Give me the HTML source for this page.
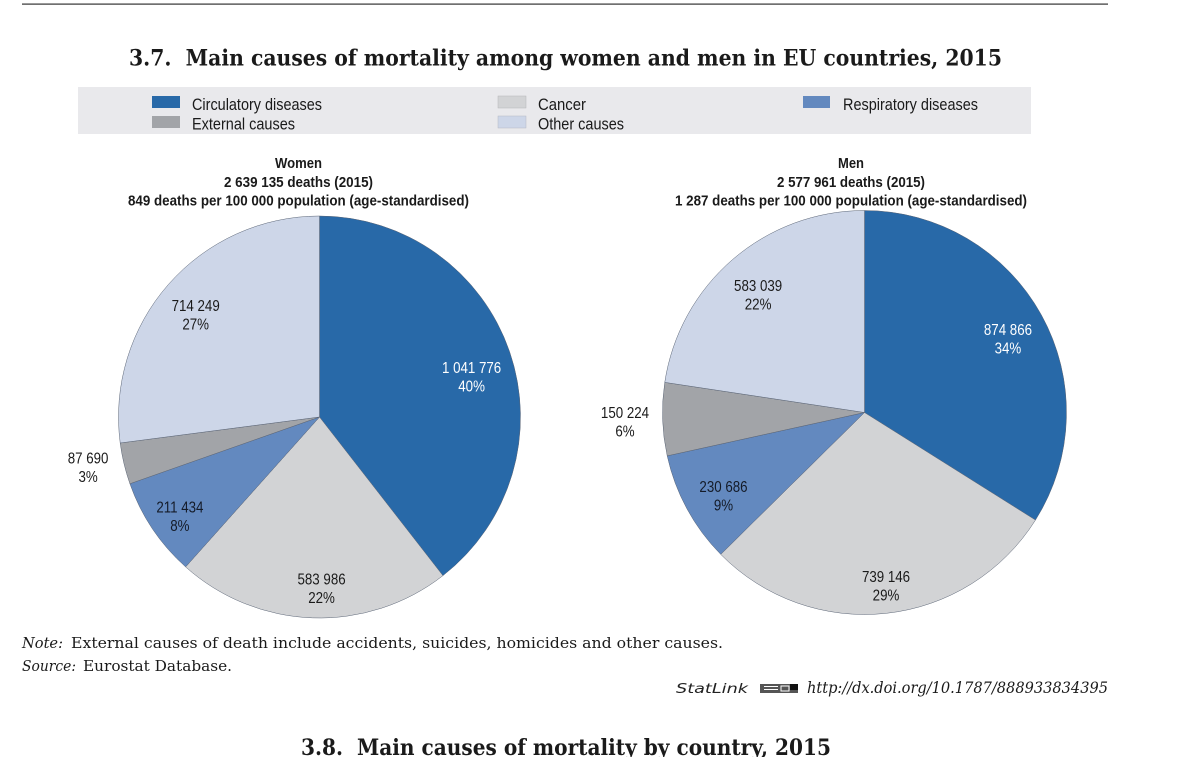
<!DOCTYPE html>
<html lang="en">
<head>
<meta charset="utf-8">
<title>Main causes of mortality among women and men in EU countries, 2015</title>
<style>
html,body{margin:0;padding:0;background:#fff;}
svg{display:block;}
.sans{font-family:"Liberation Sans",sans-serif;fill:#1a1a1a;}
.serif{font-family:"DejaVu Serif","Liberation Serif",serif;fill:#1a1a1a;}
</style>
</head>
<body>
<svg id="chart" xmlns="http://www.w3.org/2000/svg" width="1200" height="757" viewBox="0 0 1200 757">
  <rect x="0" y="0" width="1200" height="757" fill="#ffffff"/>
  <rect x="22" y="3.500" width="1086" height="1.200" fill="#333"/>
  <text class="serif" x="129" y="65.500" font-size="22.500" font-weight="bold" textLength="873" lengthAdjust="spacingAndGlyphs">3.7.&#160; Main causes of mortality among women and men in EU countries, 2015</text>

  <g>
    <rect x="78" y="87" width="953" height="47" fill="#e9e9ec"/>
    <rect x="152" y="96" width="28" height="12" fill="#2869a8"/>
    <text class="sans" x="192" y="110" font-size="16.5" textLength="130" lengthAdjust="spacingAndGlyphs">Circulatory diseases</text>
    <rect x="152" y="116" width="28" height="12" fill="#a2a4a8"/>
    <text class="sans" x="192" y="129.500" font-size="16.5" textLength="103" lengthAdjust="spacingAndGlyphs">External causes</text>
    <rect x="498" y="96" width="28" height="12" fill="#d2d3d5" stroke="#b5b6b8" stroke-width="0.5"/>
    <text class="sans" x="538" y="110" font-size="16.5" textLength="48" lengthAdjust="spacingAndGlyphs">Cancer</text>
    <rect x="498" y="116" width="28" height="12" fill="#cdd6e8" stroke="#b5b9c4" stroke-width="0.5"/>
    <text class="sans" x="538" y="129.500" font-size="16.5" textLength="86" lengthAdjust="spacingAndGlyphs">Other causes</text>
    <rect x="803" y="96" width="27" height="12" fill="#6389bf"/>
    <text class="sans" x="843" y="110" font-size="16.5" textLength="135" lengthAdjust="spacingAndGlyphs">Respiratory diseases</text>
  </g>

  <g font-weight="bold">
    <text class="sans" x="275" y="168" font-size="14.500" textLength="47" lengthAdjust="spacingAndGlyphs">Women</text>
    <text class="sans" x="224" y="187" font-size="14.500" textLength="149" lengthAdjust="spacingAndGlyphs">2 639 135 deaths (2015)</text>
    <text class="sans" x="128" y="205.500" font-size="14.500" textLength="341" lengthAdjust="spacingAndGlyphs">849 deaths per 100 000 population (age-standardised)</text>
  </g>
  <g font-weight="bold">
    <text class="sans" x="838" y="168" font-size="14.500" textLength="26" lengthAdjust="spacingAndGlyphs">Men</text>
    <text class="sans" x="777" y="187" font-size="14.500" textLength="148" lengthAdjust="spacingAndGlyphs">2 577 961 deaths (2015)</text>
    <text class="sans" x="675" y="205.500" font-size="14.500" textLength="352" lengthAdjust="spacingAndGlyphs">1 287 deaths per 100 000 population (age-standardised)</text>
  </g>

  <g id="women-pie"></g>
  <g id="men-pie"></g>

  <g>
    <text class="serif" x="22" y="648" font-size="15" font-style="italic" textLength="41" lengthAdjust="spacingAndGlyphs">Note:</text>
    <text class="serif" x="71" y="648" font-size="15" textLength="652" lengthAdjust="spacingAndGlyphs">External causes of death include accidents, suicides, homicides and other causes.</text>
    <text class="serif" x="22" y="671" font-size="15" font-style="italic" textLength="54" lengthAdjust="spacingAndGlyphs">Source:</text>
    <text class="serif" x="83" y="671" font-size="15" textLength="149" lengthAdjust="spacingAndGlyphs">Eurostat Database.</text>
  </g>

  <g>
    <text x="676" y="693" font-family="'DejaVu Sans',sans-serif" font-size="13" font-style="italic" fill="#222" textLength="72" lengthAdjust="spacingAndGlyphs">StatLink</text>
    <g>
      <rect x="760" y="684" width="38" height="9" fill="#555"/>
      <rect x="764" y="686" width="14" height="1" fill="#fff"/>
      <rect x="764" y="689" width="14" height="1" fill="#fff"/>
      <rect x="781" y="686" width="8" height="5" fill="none" stroke="#fff" stroke-width="1"/>
      <rect x="790" y="684" width="8" height="6" fill="#111"/>
    </g>
    <text x="807" y="693" font-family="'DejaVu Serif','Liberation Serif',serif" fill="#1a1a1a" font-size="16" font-style="italic" textLength="301" lengthAdjust="spacingAndGlyphs">http://dx.doi.org/10.1787/888933834395</text>
  </g>

  <text class="serif" x="301" y="755" font-size="22.500" font-weight="bold" textLength="530" lengthAdjust="spacingAndGlyphs">3.8.&#160; Main causes of mortality by country, 2015</text>
</svg>
<script>
var categories = ["Circulatory diseases", "Cancer", "Respiratory diseases", "External causes", "Other causes"];
var womenDeaths = [1041776, 583986, 211434, 87690, 714249];
var menDeaths = [874866, 739146, 230686, 150224, 583039];
var womenPercentLabels = ["40%", "22%", "8%", "3%", "27%"];
var menPercentLabels = ["34%", "29%", "9%", "6%", "22%"];

var NS = "http://www.w3.org/2000/svg";
var sliceColors = ["#2869a8", "#d2d3d5", "#6389bf", "#a2a4a8", "#cdd6e8"];
var labelColors = ["#ffffff", "#1a1a1a", "#141b28", "#1a1a1a", "#1a1a1a"];
var keys = ["circulatory", "cancer", "respiratory", "external", "other"];

function formatDeaths(n) {
  return String(n).replace(/\B(?=(\d{3})+(?!\d))/g, " ");
}

function polar(cx, cy, r, deg) {
  var a = deg * Math.PI / 180;
  return { x: cx + r * Math.sin(a), y: cy - r * Math.cos(a) };
}

function addLabelLine(group, text, x, y, color, name) {
  var t = document.createElementNS(NS, "text");
  
  
  t.setAttribute("transform", "translate(" + x + "," + y + ") scale(0.86,1)");
  t.setAttribute("text-anchor", "middle");
  t.setAttribute("font-family", '"Liberation Sans",sans-serif');
  t.setAttribute("font-size", "15.5");
  t.setAttribute("fill", color);
  t.textContent = text;
  group.appendChild(t);
}

function drawPie(groupId, prefix, values, percents, cx, cy, r, nudges) {
  var group = document.getElementById(groupId);
  var total = values.reduce(function (a, b) { return a + b; }, 0);
  var angle = 0;
  values.forEach(function (v, i) {
    var sweep = v / total * 360;
    var p0 = polar(cx, cy, r, angle);
    var p1 = polar(cx, cy, r, angle + sweep);
    var path = document.createElementNS(NS, "path");
    
    
    path.setAttribute("d", "M" + cx + " " + cy + "L" + p0.x + " " + p0.y +
      "A" + r + " " + r + " 0 " + (sweep > 180 ? 1 : 0) + " 1 " + p1.x + " " + p1.y + "Z");
    path.setAttribute("fill", sliceColors[i]);
    path.setAttribute("stroke", "#5a6475");
    path.setAttribute("stroke-width", "0.5");
    group.appendChild(path);
    angle += sweep;
  });
  angle = 0;
  values.forEach(function (v, i) {
    var sweep = v / total * 360;
    var c = polar(cx, cy, r * 0.8, angle + sweep / 2);
    var lx = c.x + nudges[i][0];
    var ly = c.y + nudges[i][1];
    addLabelLine(group, formatDeaths(v), lx, ly - 4, labelColors[i], prefix + "-value-" + keys[i]);
    addLabelLine(group, percents[i], lx, ly + 14.5, labelColors[i], prefix + "-percent-" + keys[i]);
    angle += sweep;
  });
}

drawPie("women-pie", "women", womenDeaths, womenPercentLabels, 319.5, 417, 201,
  [[0, 12], [7.5, 11], [-6, 10], [-75, 13], [-3, 4]]);
drawPie("men-pie", "men", menDeaths, menPercentLabels, 864.5, 412.5, 202,
  [[2, 4.5], [4, 13], [1, 6.5], [-78, 4], [-1, 5]]);
</script>
</body>
</html>
